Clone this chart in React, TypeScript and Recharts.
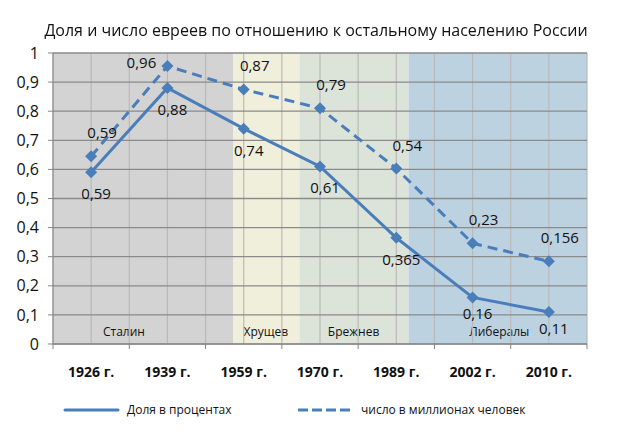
import { LineChart, Line, XAxis, YAxis, ReferenceArea, ReferenceLine, LabelList, Legend } from 'recharts';

const categories = ['1926 г.', '1939 г.', '1959 г.', '1970 г.', '1989 г.', '2002 г.', '2010 г.'];
const shareValues = [0.59, 0.88, 0.74, 0.61, 0.365, 0.16, 0.11];
const shareLabels = ['0,59', '0,88', '0,74', '0,61', '0,365', '0,16', '0,11'];
const countValues = [0.645, 0.955, 0.875, 0.81, 0.603, 0.346, 0.284];
const countLabels = ['0,59', '0,96', '0,87', '0,79', '0,54', '0,23', '0,156'];
const yTicks = [0, 0.1, 0.2, 0.3, 0.4, 0.5, 0.6, 0.7, 0.8, 0.9, 1];

// era bands, in category units (0 = left edge of 1926, 7 = right edge of 2010)
const eraNames = ['Сталин', 'Хрущев', 'Брежнев', 'Либералы'];
const eraStart = [0, 2.36, 3.23, 4.66];
const eraEnd = [2.36, 3.23, 4.66, 7];
const eraLabelAt = [0.93, 2.79, 3.94, 5.85];
const eraFills = ['#d3d3d3', '#f0efdc', '#dce3d8', '#bdd2e1'];

const seriesNames = ['Доля в процентах', 'число в миллионах человек'];

const data = categories.map((c, i) => ({
  x: i + 0.5,
  name: c,
  share: shareValues[i],
  count: countValues[i],
}));

const xTicks: number[] = [];
for (let i = 0; i <= categories.length * 2; i++) xTicks.push(i / 2);

const BLUE = '#4a7ebb';
const FONT = '"Open Sans", sans-serif';
const INK = '#111';

const fmt = (v: number) => (v === 0 ? '0' : v === 1 ? '1' : v.toFixed(1).replace('.', ','));

const Diamond = (props: any) => {
  const { cx, cy } = props;
  if (cx == null || cy == null) return null;
  const r = 6;
  return <path d={`M${cx},${cy - r}L${cx + r},${cy}L${cx},${cy + r}L${cx - r},${cy}Z`} fill={BLUE} />;
};

const XTick = (props: any) => {
  const { x, y, payload } = props;
  const v = payload.value;
  if (Number.isInteger(v)) {
    return <line x1={x} x2={x} y1={y} y2={y + 5} stroke="#868686" />;
  }
  return (
    <text x={x} y={y + 33} textAnchor="middle" fontSize={14} fontWeight={700} fill={INK} fontFamily={FONT}>
      {categories[Math.floor(v)]}
    </text>
  );
};

const shareLabel = (props: any) => {
  const { x, y, index, value } = props;
  const nearBottom = value < 0.2;
  return (
    <text x={x + 5} y={y + (nearBottom ? 22 : 27)} textAnchor="middle" fontSize={15} fill={INK} fontFamily={FONT}>
      {shareLabels[index]}
    </text>
  );
};

const countLabel = (props: any) => {
  const { x, y, index, value } = props;
  const nearTop = value > 0.92;
  return (
    <text
      x={nearTop ? x - 26 : x + 11}
      y={nearTop ? y + 2 : y - 18}
      textAnchor="middle"
      fontSize={15}
      fill={INK}
      fontFamily={FONT}
    >
      {countLabels[index]}
    </text>
  );
};

const LegendBox = () => (
  <svg width={620} height={24} style={{ display: 'block' }}>
    <line x1={65} x2={118} y1={11} y2={11} stroke={BLUE} strokeWidth={3} strokeLinecap="round" />
    <text x={127} y={15} fontSize={12} fill={INK} fontFamily={FONT}>
      {seriesNames[0]}
    </text>
    <line x1={298} x2={350} y1={11} y2={11} stroke={BLUE} strokeWidth={3} strokeDasharray="10 4" />
    <text x={361} y={15} fontSize={12} fill={INK} fontFamily={FONT}>
      {seriesNames[1]}
    </text>
  </svg>
);

export default function App() {
  return (
    <div style={{ position: 'fixed', left: 0, top: 0, width: 620, height: 435, background: '#fff' }}>
      <div
        style={{
          position: 'absolute',
          left: 6,
          top: 19,
          width: 620,
          textAlign: 'center',
          fontFamily: FONT,
          fontSize: 16,
          lineHeight: '22px',
          color: INK,
          zIndex: 2,
        }}
      >
        Доля и число евреев по отношению к остальному населению России
      </div>
      <LineChart width={620} height={435} data={data} margin={{ top: 53, right: 33, bottom: 22, left: 0 }}>
        {eraNames.map((n, i) => (
          <ReferenceArea
            key={n}
            x1={eraStart[i]}
            x2={eraEnd[i]}
            y1={0}
            y2={1}
            fill={eraFills[i]}
            fillOpacity={1}
            stroke="none"
          />
        ))}
        {xTicks.map((t) => (
          <ReferenceLine key={'vx' + t} x={t} stroke="#b9b9b9" strokeWidth={1.2} />
        ))}
        {yTicks.map((t) => (
          <ReferenceLine key={'hy' + t} y={t} stroke="#8a8a8a" strokeWidth={1.3} />
        ))}
        {eraNames.map((n, i) => (
          <ReferenceArea
            key={'lbl' + n}
            x1={eraStart[i]}
            x2={eraEnd[i]}
            y1={0}
            y2={1}
            fillOpacity={0}
            stroke="none"
            label={(p: any) => {
              const vb = p.viewBox;
              const lx = vb.x + ((eraLabelAt[i] - eraStart[i]) / (eraEnd[i] - eraStart[i])) * vb.width;
              return (
                <text x={lx} y={vb.y + vb.height - 8} textAnchor="middle" fontSize={12} fill={INK} fontFamily={FONT}>
                  {n}
                </text>
              );
            }}
          />
        ))}
        <XAxis
          dataKey="x"
          type="number"
          domain={[0, categories.length]}
          ticks={xTicks}
          interval={0}
          tick={<XTick />}
          tickLine={false}
          tickSize={0}
          tickMargin={0}
          height={45}
          stroke="#868686"
        />
        <YAxis
          domain={[0, 1]}
          ticks={yTicks}
          interval={0}
          width={53}
          tickSize={5}
          tickMargin={9}
          tickFormatter={fmt}
          tick={{ fontSize: 16, fill: INK, fontFamily: FONT }}
          stroke="#868686"
        />
        <Legend verticalAlign="bottom" content={<LegendBox />} wrapperStyle={{ bottom: 12, left: 0, width: 620 }} />
        <Line
          dataKey="share"
          name={seriesNames[0]}
          stroke={BLUE}
          strokeWidth={3}
          dot={<Diamond />}
          activeDot={false}
          isAnimationActive={false}
        >
          <LabelList dataKey="share" content={shareLabel} />
        </Line>
        <Line
          dataKey="count"
          name={seriesNames[1]}
          stroke={BLUE}
          strokeWidth={3}
          strokeDasharray="10 6"
          dot={<Diamond />}
          activeDot={false}
          isAnimationActive={false}
        >
          <LabelList dataKey="count" content={countLabel} />
        </Line>
      </LineChart>
    </div>
  );
}
